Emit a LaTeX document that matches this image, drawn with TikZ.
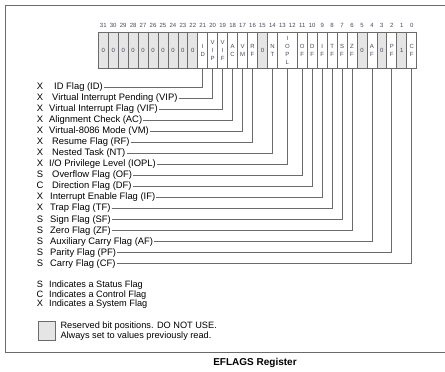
\documentclass[tikz,border=0pt]{standalone}
\usepackage{fontspec}
\setmainfont{Liberation Sans}
\usetikzlibrary{positioning}
\definecolor{regline}{gray}{0.42}
\definecolor{resfill}{gray}{0.9}
\definecolor{celltext}{RGB}{70,70,90}

\begin{document}
\begin{tikzpicture}[x=1pt,y=-1pt,
  cell/.style={draw=regline,line width=0.8pt,minimum width=9.95pt,minimum height=36pt,inner sep=0pt,font=\fontsize{6}{8}\selectfont,text=celltext,align=center},
  resv/.style={cell,fill=resfill},
  flag/.style={font=\fontsize{9.4}{11}\selectfont,inner sep=1pt,anchor=base west},
  kind/.style={font=\fontsize{9.4}{11}\selectfont,inner sep=0pt,anchor=base},
  wire/.style={draw=regline,line width=0.8pt}]
\useasboundingbox (0,0) rectangle (445,372);
\draw[regline,line width=0.8pt] (5,5) rectangle (470,352.7);
% bit numbers and register cells
\foreach \b in {0,...,31} \node[font=\fontsize{6}{7}\selectfont,text=celltext] (n\b) at ({98.3+(31.5-\b)*9.95},25) {\b};
\foreach \b in {22,...,31,15,5,3} \node[resv] (b\b) at ({98.3+(31.5-\b)*9.95},50) {0};
\node[resv] (b1) at ({98.3+30.5*9.95},50) {1};
\foreach \b/\t in {21/{I\\D},20/{V\\I\\P},19/{V\\I\\F},18/{A\\C},17/{V\\M},16/{R\\F},14/{N\\T},11/{O\\F},10/{D\\F},9/{I\\F},8/{T\\F},7/{S\\F},6/{Z\\F},4/{A\\F},2/{P\\F},0/{C\\F}}
  \node[cell] (b\b) at ({98.3+(31.5-\b)*9.95},50) {\t};
\node[cell,minimum width=19.9pt] (b13) at ({98.3+19*9.95},50) {I\\O\\P\\L};
% flag labels and connectors
\foreach \b/\k/\t/\i [count=\r from 0] in {21/X/{ID Flag (ID)}/53,20/X/{Virtual Interrupt Pending (VIP)}/51,19/X/{Virtual Interrupt Flag (VIF)}/48,18/X/{Alignment Check (AC)}/48,17/X/{Virtual-8086 Mode (VM)}/48,16/X/{Resume Flag (RF)}/51,14/X/{Nested Task (NT)}/51,13/X/{I/O Privilege Level (IOPL)}/48,11/S/{Overflow Flag (OF)}/51,10/C/{Direction Flag (DF)}/51,9/X/{Interrupt Enable Flag (IF)}/49,8/X/{Trap Flag (TF)}/49,7/S/{Sign Flag (SF)}/49,6/S/{Zero Flag (ZF)}/49,4/S/{Auxiliary Carry Flag (AF)}/49,2/S/{Parity Flag (PF)}/49,0/S/{Carry Flag (CF)}/49} {
  \node[kind] (k\b) at (40,{89.4+\r*11.05}) {\k};
  \node[flag] (f\b) at (\i,{89.4+\r*11.05}) {\t};
  \draw[wire] (f\b.east) -| (b\b.south);
}
% legend
\foreach \k/\t [count=\r from 0] in {S/Status,C/Control,X/System} {
  \node[kind,font=\fontsize{9.2}{10}\selectfont] (lk\r) at (40,{287.3+\r*9.7}) {\k};
  \node[flag,font=\fontsize{9.2}{10}\selectfont] (lt\r) at (48,{287.3+\r*9.7}) {Indicates a \t\ Flag};
}
\node[resv,minimum width=16.7pt,minimum height=19pt] (swatch) at (46.6,331.2) {};
\node[right=5pt of swatch,align=left,inner sep=0pt,font=\fontsize{9.2}{10.6}\selectfont] (note) {Reserved bit positions. DO NOT USE.\\Always set to values previously read.};
\node[font=\fontsize{10}{12}\selectfont\bfseries] (title) at (255,363.3) {EFLAGS Register};
\end{tikzpicture}
\end{document}
